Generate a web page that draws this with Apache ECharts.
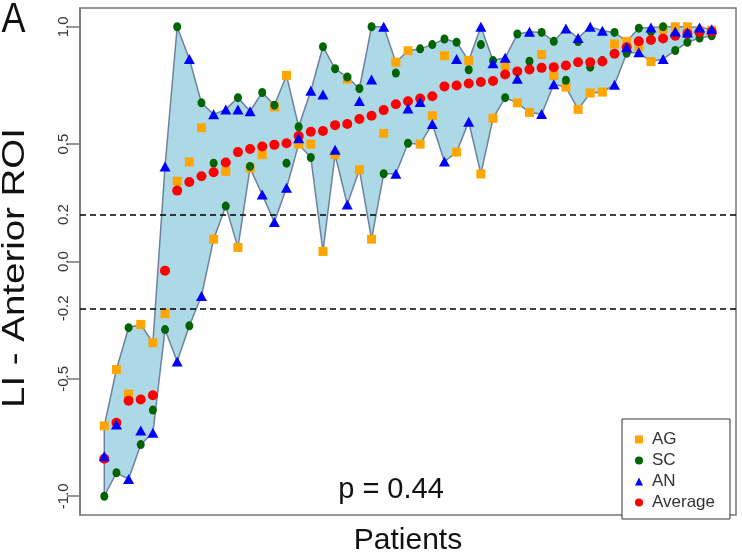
<!DOCTYPE html>
<html><head><meta charset="utf-8">
<script src="https://cdn.jsdelivr.net/npm/echarts@6/dist/echarts.min.js"></script>
<style>html,body{margin:0;padding:0;background:#fff}#c{width:742px;height:552px}</style>
</head><body><div id="c"></div>
<script>
// Patient index 1..51 (x axis, no labels)
const patients = [1,2,3,4,5,6,7,8,9,10,11,12,13,14,15,16,17,18,19,20,21,22,23,24,25,26,27,28,29,30,31,32,33,34,35,36,37,38,39,40,41,42,43,44,45,46,47,48,49,50,51];
const AG = [-0.70,-0.46,-0.565,-0.268,-0.346,-0.222,0.342,0.424,0.57,0.095,0.384,0.06,0.398,0.455,0.659,0.793,0.50,0.50,0.043,0.455,0.777,0.391,0.095,0.546,0.849,0.898,0.50,0.621,0.877,0.466,0.856,0.373,0.61,0.835,0.676,0.635,0.882,0.793,0.743,0.648,0.718,0.722,0.927,0.938,0.915,0.852,0.99,1.0,1.0,0.983,0.985];
const SC = [-1.0,-0.90,-0.282,-0.78,-0.633,-0.29,1.0,-0.274,0.676,0.419,0.236,0.698,0.405,0.72,0.666,0.419,0.574,0.443,0.915,0.821,0.786,0.737,1.0,0.374,0.803,0.504,0.906,0.924,0.948,0.934,0.817,0.924,0.856,0.698,0.969,0.853,0.976,0.938,0.772,0.937,0.828,0.856,0.976,0.887,0.994,0.98,1.0,0.899,0.934,0.952,0.962];
const AN = [-0.83,-0.694,-0.927,-0.72,-0.73,0.405,-0.426,0.863,-0.147,0.627,0.648,0.648,0.64,0.285,0.168,0.314,0.525,0.727,0.712,0.476,0.243,0.684,0.775,1.0,0.374,0.652,0.68,0.586,0.426,0.863,0.595,1.0,0.845,0.868,0.779,0.979,0.628,0.755,0.993,0.952,1.0,0.983,0.753,0.913,0.891,0.997,0.863,0.98,0.976,0.997,0.99];
const Average = [-0.84,-0.687,-0.593,-0.588,-0.57,-0.039,0.302,0.339,0.363,0.38,0.422,0.466,0.479,0.49,0.497,0.504,0.535,0.553,0.556,0.581,0.586,0.607,0.621,0.645,0.67,0.683,0.694,0.704,0.746,0.75,0.758,0.765,0.769,0.797,0.81,0.818,0.825,0.828,0.835,0.849,0.849,0.852,0.885,0.913,0.938,0.944,0.95,0.962,0.97,0.977,0.979];
const yTickLabels = [-1.0,-0.5,-0.2,0.0,0.2,0.5,1.0];
const yTickMarks = [-1.0,-0.5,0.0,0.5,1.0];
const thresholds = [0.2,-0.2];
const seriesNames = ['AG','SC','AN','Average'];
const yTitle = 'LI - Anterior ROI';
const xTitle = 'Patients';
const panelLabel = 'A';
const pText = 'p = 0.44';

const FONT = '"Liberation Sans", Arial, Helvetica, sans-serif';
const lo = patients.map((p,i)=>Math.min(AG[i],SC[i],AN[i]));
const hi = patients.map((p,i)=>Math.max(AG[i],SC[i],AN[i]));
const pair = arr => patients.map((p,i)=>[p, arr[i]]);
const borderCol = '#6e81a0';

function renderBand(params, api){
  if (params.dataIndex !== 0) return null;
  const pts = [];
  for (let i=0;i<patients.length;i++) pts.push(api.coord([patients[i], hi[i]]));
  for (let i=patients.length-1;i>=0;i--) pts.push(api.coord([patients[i], lo[i]]));
  return {type:'polygon', shape:{points:pts}, style:{fill:'#ADD8E6', stroke:borderCol, lineWidth:1.5}};
}

const chart = echarts.init(document.getElementById('c'), null, {renderer:'canvas'});
chart.setOption({
  animation:false,
  backgroundColor:'#fff',
  textStyle:{fontFamily:FONT},
  grid:{left:80, right:6, top:8, bottom:37, outerBoundsMode:'none', containLabel:false, show:true, borderColor:'#777', borderWidth:1.5, backgroundColor:'transparent'},
  xAxis:{type:'value', min:-1, max:53, axisLine:{show:false, onZero:false}, axisTick:{show:false}, axisLabel:{show:false}, splitLine:{show:false},
    name:xTitle, nameLocation:'middle', nameGap:11, nameTextStyle:{fontSize:30, color:'#111', fontFamily:FONT}},
  yAxis:{type:'value', min:-1.08, max:1.08, splitLine:{show:false},
    axisLine:{show:true, onZero:false, lineStyle:{color:'#777', width:1.5}},
    axisTick:{show:true, length:13, lineStyle:{color:'#777', width:1.5}, customValues:yTickMarks},
    axisLabel:{customValues:yTickLabels, rotate:90, fontSize:15, color:'#333', margin:9, fontFamily:FONT, formatter:v=>Number(v).toFixed(1)}},
  legend:{data:seriesNames, orient:'vertical', left:622, top:419, padding:[12,15,8,13], itemWidth:8, itemHeight:8, itemGap:4,
    borderColor:'#333', borderWidth:1, borderRadius:0, backgroundColor:'#fff',
    textStyle:{fontSize:17, lineHeight:16, color:'#333', fontFamily:FONT, padding:[0,0,0,4]}},
  graphic:[
    {type:'text', x:13.5, y:20, scaleY:1.17, z:100, style:{text:panelLabel, font:'36px '+FONT, fill:'#111', textAlign:'center', textVerticalAlign:'middle', align:'center', verticalAlign:'middle'}},
    {type:'text', x:15, y:268, rotation:Math.PI/2, scaleX:1.24, z:100, style:{text:yTitle, font:'31px '+FONT, fill:'#111', textAlign:'center', textVerticalAlign:'middle', align:'center', verticalAlign:'middle'}},
    {type:'text', x:391, y:490, z:100, style:{text:pText, font:'29px '+FONT, fill:'#111', textAlign:'center', textVerticalAlign:'middle', align:'center', verticalAlign:'middle'}}
  ],
  series:[
    {type:'custom', name:'band', renderItem:renderBand, data:[[patients[0], lo[0]]], z:1, silent:true, clip:true},
    {type:'scatter', name:'AG', data:pair(AG), symbol:'rect', symbolSize:9, itemStyle:{color:'#FFA500', opacity:1}, z:3},
    {type:'scatter', name:'SC', data:pair(SC), symbol:'circle', symbolSize:[8,9], itemStyle:{color:'#006400', opacity:1}, z:3},
    {type:'scatter', name:'Average', data:pair(Average), symbol:'circle', symbolSize:10, itemStyle:{color:'#FF0000', opacity:1}, z:3,
      markLine:{silent:true, symbol:'none', label:{show:false}, lineStyle:{color:'#000', type:[6,4], width:1.5},
        data:thresholds.map(t=>({yAxis:t}))}},
    {type:'scatter', name:'AN', data:pair(AN), symbol:'triangle', symbolSize:[11,10], itemStyle:{color:'#0000FF', opacity:1}, z:3}
  ]
});
</script></body></html>
